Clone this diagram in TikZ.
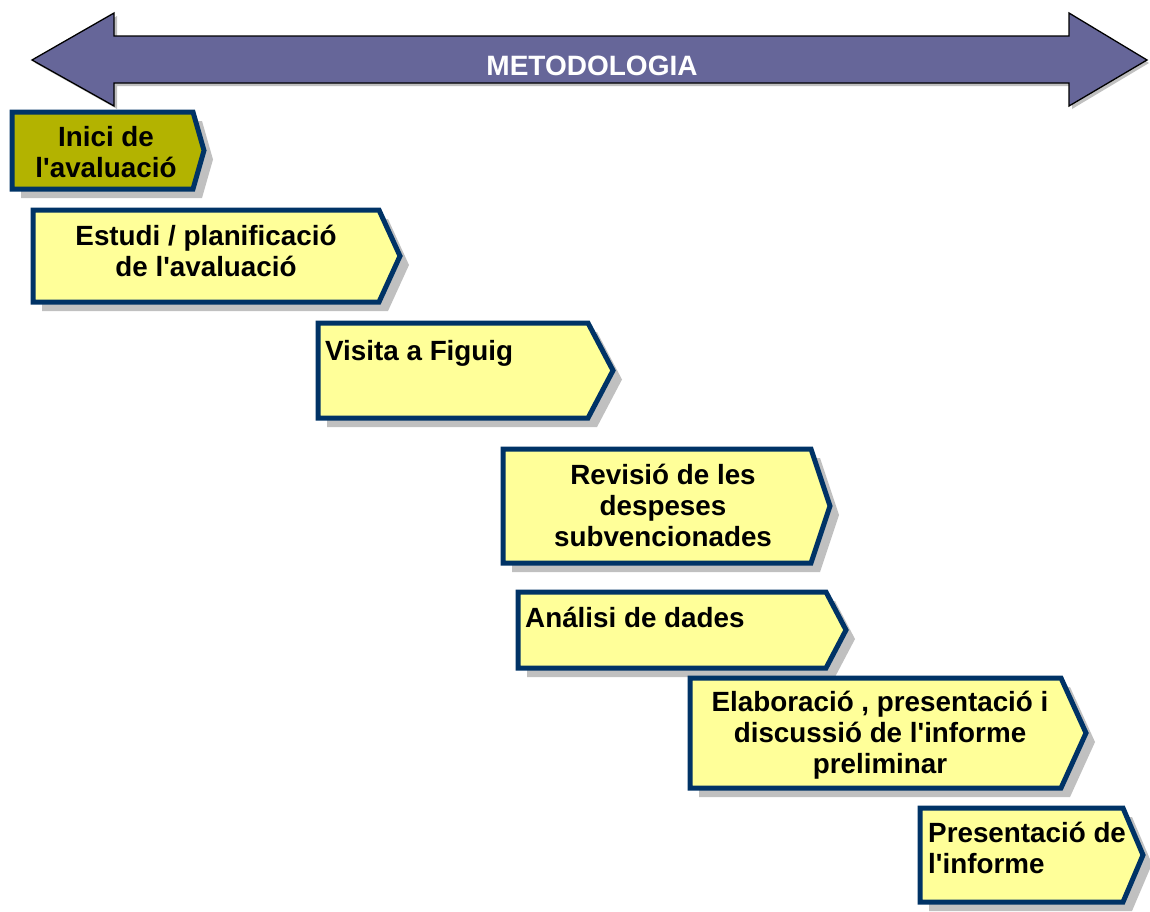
\documentclass[tikz,border=0pt]{standalone}
\usepackage{fontspec}
\setmainfont{Liberation Sans}
\usetikzlibrary{calc}
\definecolor{stepyellow}{HTML}{FFFF99}
\definecolor{stepolive}{HTML}{B3B300}
\definecolor{stepborder}{HTML}{003366}
\definecolor{arrowblue}{HTML}{666699}
\definecolor{shadowgray}{HTML}{C0C0C0}
\tikzset{
    stepshape/.style={draw=stepborder, line width=5pt, line join=miter},
    steptext/.style={font=\fontsize{27.8}{31}\selectfont\bfseries, inner sep=0pt},
}
\newcommand{\ap}{\textquotesingle}

\begin{document}
\begin{tikzpicture}[x=1pt,y=-1pt]
\useasboundingbox (0,0) rectangle (1150,911);
% the double arrow over the whole plan
\fill[shadowgray] (35,63) -- (117,16) -- (117,39) -- (1072,39) -- (1072,16) -- (1149,63) -- (1072,109) -- (1072,86) -- (117,86) -- (117,109) -- cycle;
\draw[fill=arrowblue, line width=1.3pt, line join=miter] (32,60) -- (114,13) -- (114,36) -- (1069,36) -- (1069,13) -- (1147,60) -- (1069,106) -- (1069,83) -- (114,83) -- (114,106) -- cycle;
\node[white, font=\fontsize{28}{32}\selectfont\bfseries] (metodologia) at (592,66) {METODOLOGIA};
% the steps, each with its shadow
\foreach \p/\xl/\yt/\xr/\xt/\yb/\col in {inici/12/112/193/204/189/stepolive, estudi/33/210/379/400/302/stepyellow, visita/318/323/588/613/418/stepyellow, revisio/503/449/811/830/563/stepyellow, analisi/518/592/826/846/668/stepyellow, elaboracio/690/678/1061/1086/788/stepyellow, informe/920/808/1123/1143/902/stepyellow}{
    \begin{scope}[shift={(9,9)}]
        \fill[shadowgray] (\xl,\yt) -- (\xr,\yt) -- (\xt,{(\yt+\yb)/2}) -- (\xr,\yb) -- (\xl,\yb) -- cycle;
    \end{scope}
    \draw[stepshape, fill=\col] (\xl,\yt) -- (\xr,\yt) -- (\xt,{(\yt+\yb)/2}) -- (\xr,\yb) -- (\xl,\yb) -- cycle;
    \coordinate (\p) at (\xl,\yt);
}
\node[steptext, align=center] (inicitext) at (106,152) {Inici de\\l\ap avaluació};
\node[steptext, align=center] (estuditext) at (206,251) {Estudi / planificació\\de l\ap avaluació};
\node[steptext, anchor=base west] (visitatext) at (325,360) {Visita a Figuig};
\node[steptext, align=center] (revisiotext) at (663,505) {Revisió de les\\despeses\\subvencionades};
\node[steptext, anchor=base west] (analisitext) at (525,627) {Análisi de dades};
\node[steptext, align=center] (elaboraciotext) at (880,735) {Elaboració , presentació i\\discussió de l\ap informe\\preliminar};
\node[steptext, align=left, anchor=north west] (informetext) at (928,822) {Presentació de\\l\ap informe};
\end{tikzpicture}
\end{document}
